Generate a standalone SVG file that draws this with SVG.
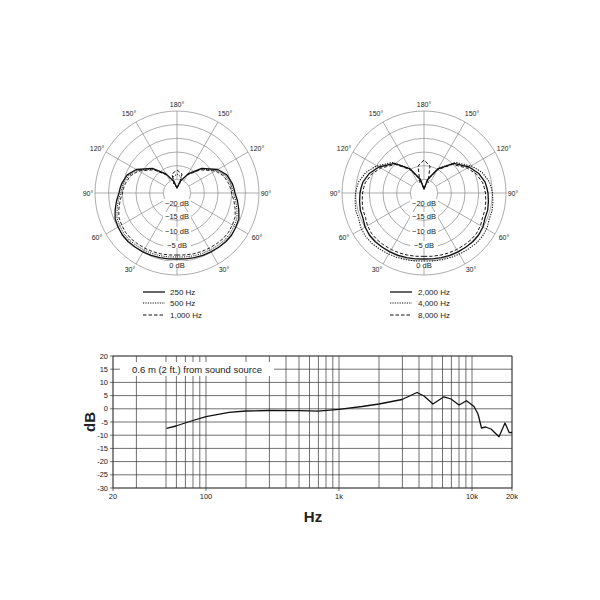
<svg xmlns="http://www.w3.org/2000/svg" xmlns:xlink="http://www.w3.org/1999/xlink" width="600" height="600" viewBox="0 0 600 600">
<style>
text{font-family:"Liberation Sans",Arial,sans-serif;fill:#222}
.ang{font-size:7px;text-anchor:middle}
.db{font-size:7.5px;text-anchor:middle}
.pg{fill:none;stroke:#8a8a8a;stroke-width:0.7}
.c{fill:none;stroke:#111;stroke-width:1.3;stroke-linejoin:round}
.dot{stroke-dasharray:1.2 1.2;stroke-width:1}
.dash{stroke-dasharray:3.5 2;stroke-width:1}
.g{stroke:#333;stroke-width:0.7;fill:none}
.yl{font-size:7.5px;text-anchor:end}
.xl{font-size:7.5px;text-anchor:middle}
.leg{font-size:8px}
</style>
<defs>
<g id="grid">
<circle class="pg" r="82"/><circle class="pg" r="68.3"/><circle class="pg" r="54.7"/><circle class="pg" r="41"/><circle class="pg" r="27.3"/><circle class="pg" r="13.7"/>
<path class="pg" d="M0,-13.7V-82M0,13.7V82M-13.7,0H-82M13.7,0H82M6.85,11.86L41,71M-6.85,11.86L-41,71M6.85,-11.86L41,-71M-6.85,-11.86L-41,-71M11.86,6.85L71,41M-11.86,6.85L-71,41M11.86,-6.85L71,-41M-11.86,-6.85L-71,-41"/>
<text class="ang" y="-86">180°</text>
<text class="ang" x="-48" y="-77">150°</text><text class="ang" x="48" y="-77">150°</text>
<text class="ang" x="-80" y="-42">120°</text><text class="ang" x="80" y="-42">120°</text>
<text class="ang" x="-89" y="2.5">90°</text><text class="ang" x="89" y="2.5">90°</text>
<text class="ang" x="-80" y="47">60°</text><text class="ang" x="80" y="47">60°</text>
<text class="ang" x="-47" y="79">30°</text><text class="ang" x="47" y="79">30°</text>
<g fill="#fff"><rect x="-14" y="6" width="28" height="7"/><rect x="-14" y="19" width="28" height="7"/><rect x="-14" y="34" width="28" height="7"/><rect x="-14" y="48" width="28" height="7"/><rect x="-10" y="68" width="20" height="7"/></g>
<text class="db" y="12.5">−20 dB</text><text class="db" y="25.5">−15 dB</text><text class="db" y="40.5">−10 dB</text><text class="db" y="54.5">−5 dB</text><text class="db" y="74.5">0 dB</text>
</g>
<path id="lc" d="M0,66 L8.7,65.9 17.3,64.7 25.8,62.4 34,58.9 41.7,54.3 48.8,48.8 54.7,42 58.9,34 61.9,25.6 61.8,16.6 60.5,8 58,0 56.8,-5 55.2,-9.7 49.8,-18.1 40.7,-23.5 24.7,-24.7 11,-19.1 3.1,-11.6 0,-5 -3.1,-11.6 -11,-19.1 -24.7,-24.7 -40.7,-23.5 -49.8,-18.1 -55.2,-9.7 -56.8,-5 -58,0 -60.5,8 -61.8,16.6 -61.9,25.6 -58.9,34 -54.7,42 -48.8,48.8 -41.7,54.3 -34,58.9 -25.8,62.4 -17.3,64.7 -8.7,65.9 Z"/>
<path id="rc" d="M0,66 L8.7,65.9 17.3,64.7 25.8,62.4 34,58.9 41.7,54.3 48.8,48.8 54.7,42 58.9,34 61,25.3 63.7,17.1 64.4,8.5 64,0 62.8,-5.5 61.1,-10.8 54.5,-19.8 45,-26 29.7,-29.7 14,-24.2 3.6,-13.5 0,-4 -3.6,-13.5 -14,-24.2 -29.7,-29.7 -45,-26 -54.5,-19.8 -61.1,-10.8 -62.8,-5.5 -64,0 -64.4,8.5 -63.7,17.1 -61,25.3 -58.9,34 -54.7,42 -48.8,48.8 -41.7,54.3 -34,58.9 -25.8,62.4 -17.3,64.7 -8.7,65.9 Z"/>
</defs>

<g id="polar-left" transform="translate(177,193)">
<use xlink:href="#grid"/>
<use xlink:href="#lc" class="c"/>
<use xlink:href="#lc" class="c dot" transform="scale(0.97)"/>
<use xlink:href="#lc" class="c dash" transform="scale(0.94)"/>
<path class="c dash" d="M-3,-9 L-5,-19 0,-23 5,-19 3,-9"/>
<path class="c dot" d="M-3,-9 L-4,-16 0,-19 4,-16 3,-9"/>
</g>
<g id="legend-left" class="leg">
<path class="c" d="M143,292H165"/><text x="170" y="295">250 Hz</text>
<path class="c dot" d="M143,303H165"/><text x="170" y="306">500 Hz</text>
<path class="c dash" d="M143,315H165"/><text x="170" y="318">1,000 Hz</text>
</g>

<g id="polar-right" transform="translate(424,193)">
<use xlink:href="#grid"/>
<use xlink:href="#rc" class="c"/>
<use xlink:href="#rc" class="c dot" transform="scale(1.07,1.03)"/>
<use xlink:href="#rc" class="c dash" transform="scale(0.96)"/>
<path class="c dash" d="M-4,-10 L-6,-27 0,-33 6,-27 4,-10"/>
</g>
<g id="legend-right" class="leg">
<path class="c" d="M390,292H412"/><text x="418" y="295">2,000 Hz</text>
<path class="c dot" d="M390,303H412"/><text x="418" y="306">4,000 Hz</text>
<path class="c dash" d="M390,315H412"/><text x="418" y="318">8,000 Hz</text>
</g>

<g id="freq-chart">
<rect class="g" x="113" y="356" width="399" height="132"/>
<path class="g" d="M110,356H512M110,369.2H512M110,382.4H512M110,395.6H512M110,408.8H512M110,422H512M110,435.2H512M110,448.4H512M110,461.6H512M110,474.8H512M110,488H512"/>
<path class="g" d="M113,356V491M136.4,356V488M166,356V488M176.4,356V488M185.4,356V488M193,356V488M199.8,356V488M206,356V491M246,356V488M269.4,356V488M286,356V488M299,356V488M309.5,356V488M318.4,356V488M326,356V488M332.8,356V488M339,356V491M379,356V488M402.4,356V488M419,356V488M432,356V488M442.5,356V488M451.4,356V488M459,356V488M465.9,356V488M472,356V491M512,356V491"/>
<rect x="120" y="362" width="154" height="14" fill="#fff"/>
<text x="197" y="372.5" font-size="9.5" text-anchor="middle">0.6 m (2 ft.) from sound source</text>
<g class="yl">
<text x="108" y="358.5">20</text><text x="108" y="371.7">15</text><text x="108" y="384.9">10</text><text x="108" y="398.1">5</text><text x="108" y="411.3">0</text><text x="108" y="424.5">-5</text><text x="108" y="437.7">-10</text><text x="108" y="450.9">-15</text><text x="108" y="464.1">-20</text><text x="108" y="477.3">-25</text><text x="108" y="490.5">-30</text>
</g>
<g class="xl">
<text x="113" y="499">20</text><text x="206" y="499">100</text><text x="339" y="499">1k</text><text x="472" y="499">10k</text><text x="512" y="499">20k</text>
</g>
<text x="95" y="422" font-size="15" font-weight="bold" text-anchor="middle" transform="rotate(-90 95 422)">dB</text>
<text x="313" y="522" font-size="15" font-weight="bold" text-anchor="middle">Hz</text>
<polyline class="c" points="166.5,428.3 176,426 185,423 193,420.5 206,416.7 229,412.3 246,411 269,410.5 299,410.6 318,411.2 339,409.3 362,406.5 379,404 402,399.5 417,392.5 424,396 433,404 439,400 444,396.8 451,399 459,405 466.5,400.7 474,406.5 478,414 481.5,428 485.5,427 491,429 499,436.7 505,423 509.3,432.7 512,432.5"/>
</g>
</svg>
